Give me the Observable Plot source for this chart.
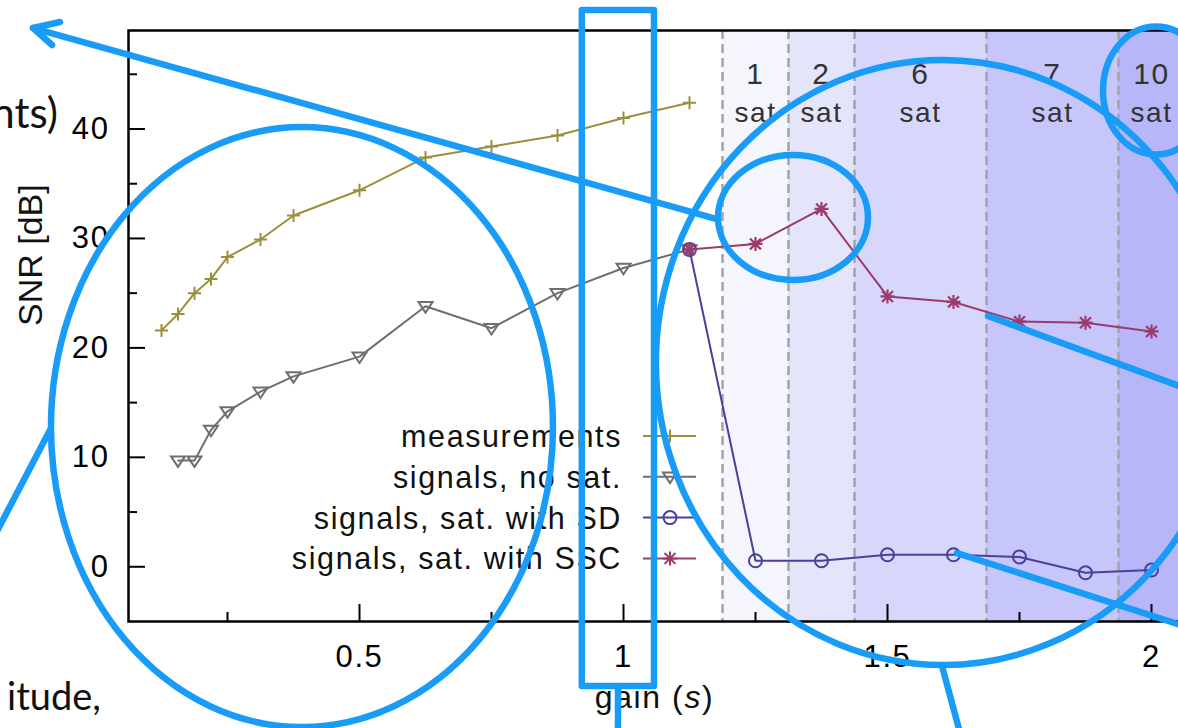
<!DOCTYPE html>
<html>
<head>
<meta charset="utf-8">
<script src="https://cdn.jsdelivr.net/npm/d3@7"></script>
<script src="https://cdn.jsdelivr.net/npm/@observablehq/plot@0.6"></script>
<style>
  html, body { margin: 0; padding: 0; background: #fff; overflow: hidden; width: 1178px; height: 728px; }
  #wrap { position: relative; width: 1200px; height: 728px; overflow: hidden; background: #fff; }
  #wrap svg { max-width: none !important; display: block; }
  #wrap svg text { letter-spacing: 1.6px; }
</style>
</head>
<body>
<div id="wrap"></div>
<script>
// ---------------- data ----------------
const gainMeas  = [0.125, 0.15625, 0.1875, 0.21875, 0.25, 0.3125, 0.375, 0.5, 0.625, 0.75, 0.875, 1.0, 1.125];
const snrMeas   = [21.6, 23.1, 25.0, 26.3, 28.3, 29.9, 32.1, 34.4, 37.4, 38.4, 39.4, 41.0, 42.4];
const gainNoSat = [0.15625, 0.1875, 0.21875, 0.25, 0.3125, 0.375, 0.5, 0.625, 0.75, 0.875, 1.0, 1.125];
const snrNoSat  = [9.7, 9.7, 12.5, 14.2, 16.0, 17.4, 19.2, 23.8, 21.8, 25.0, 27.3, 29.0];
const gainSat   = [1.125, 1.25, 1.375, 1.5, 1.625, 1.75, 1.875, 2.0];
const snrSD     = [29.0, 0.55, 0.55, 1.1, 1.1, 0.9, -0.55, -0.3];
const snrSSC    = [29.0, 29.5, 32.7, 24.7, 24.2, 22.4, 22.3, 21.5];

const satEdges  = [1.1875, 1.3125, 1.4375, 1.6875, 1.9375, 2.0625];
const satCounts = ["1", "2", "6", "7", "10"];
const satWord   = "sat";

const xDomain = [0.0625, 2.0625];
const yDomain = [-5, 49];
const xMajorTicks = [0.5, 1, 1.5, 2];
const xMinorTicks = [0.25, 0.75, 1.25, 1.75];
const yMajorTicks = [0, 10, 20, 30, 40];
const yMinorTicks = [5, 15, 25, 35, 45];

const seriesNames = ["measurements", "signals, no sat.", "signals, sat. with SD", "signals, sat. with SSC"];
const slideFragments = ["nts)", "itude,"];

// annotation overlay shapes, in data units (gain, SNR)
const annEllipses = [
  {cx: 0.392, cy: 12.72, rx: 0.4754, ry: 27.41},
  {cx: 1.606, cy: 18.62, rx: 0.5436, ry: 27.64},
  {cx: 1.322, cy: 31.87, rx: 0.142,  ry: 5.71},
  {cx: 2.0095, cy: 43.47, rx: 0.1004, ry: 5.85}
];
const annRect = [{x1: 0.922, x2: 1.0587, y1: -10.94, y2: 50.83}];
const annPaths = [
  [[1.178, 31.73], [-0.1174, 49.18]],
  [[-0.0663, 49.73], [-0.1174, 49.18], [-0.0814, 47.63]],
  [[-0.0852, 12.45], [-0.1894, 2.86]],
  [[0.9905, -10.94], [0.9905, -15.42]],
  [[1.6913, 22.87], [2.0739, 16.11]],
  [[1.6326, 1.21], [2.0739, -5.64]],
  [[1.6042, -9.11], [1.642, -15.88]]
];

// ---------------- styles ----------------
const colMeas = "#9d8e3c", colNoSat = "#6e6e6e", colSD = "#4a3f9c", colSSC = "#9b3a6c";
const bandFills = ["#f5f5fe", "#e4e4fb", "#d7d7fb", "#c6c6fb", "#b6b6f8"];
const annColor = "#189cf8";

const plusSym = {draw(ctx, size) { const r = Math.sqrt(size / Math.PI); ctx.moveTo(-r, 0); ctx.lineTo(r, 0); ctx.moveTo(0, -r); ctx.lineTo(0, r); }};
const triDown = {draw(ctx, size) { const r = Math.sqrt(size / Math.PI); ctx.moveTo(-r, -r * 0.6); ctx.lineTo(r, -r * 0.6); ctx.lineTo(0, r * 0.9); ctx.closePath(); }};
const astSym = {draw(ctx, size) { const r = Math.sqrt(size / Math.PI), d = r * 0.78;
  ctx.moveTo(-r, 0); ctx.lineTo(r, 0); ctx.moveTo(0, -r); ctx.lineTo(0, r);
  ctx.moveTo(-d, -d); ctx.lineTo(d, d); ctx.moveTo(-d, d); ctx.lineTo(d, -d); }};

const meas  = gainMeas.map((g, i) => ({g, s: snrMeas[i]}));
const nosat = gainNoSat.map((g, i) => ({g, s: snrNoSat[i]}));
const sd    = gainSat.map((g, i) => ({g, s: snrSD[i]}));
const ssc   = gainSat.map((g, i) => ({g, s: snrSSC[i]}));
const bands = satCounts.map((c, i) => ({x1: satEdges[i], x2: satEdges[i + 1], c, fill: bandFills[i]}));

const font = "Liberation Sans, Arial, Helvetica, sans-serif";

const plot = Plot.plot({
  width: 1200,
  height: 728,
  marginLeft: 128,
  marginRight: 16,
  marginTop: 30,
  marginBottom: 107,
  x: {domain: xDomain},
  y: {domain: yDomain},
  style: {fontFamily: font, background: "#fff", color: "#000", maxWidth: "none"},
  marks: [
    Plot.rect(bands, {x1: "x1", x2: "x2", y1: yDomain[0], y2: yDomain[1], fill: "fill"}),
    Plot.ruleX(satEdges.slice(0, 5), {stroke: "#a4a4a4", strokeWidth: 2.5, strokeDasharray: "9,5"}),
    Plot.text(bands, {x: d => (d.x1 + d.x2) / 2, text: "c", frameAnchor: "top", lineAnchor: "middle", dy: 44, fontSize: 30, fill: "#333"}),
    Plot.text(bands, {x: d => (d.x1 + d.x2) / 2, text: () => satWord, frameAnchor: "top", lineAnchor: "middle", dy: 83, fontSize: 28, fill: "#333"}),

    Plot.line(meas, {x: "g", y: "s", stroke: colMeas, strokeWidth: 2}),
    Plot.dot(meas, {x: "g", y: "s", stroke: colMeas, strokeWidth: 2, symbol: plusSym, r: 6.5}),
    Plot.line(nosat, {x: "g", y: "s", stroke: colNoSat, strokeWidth: 2}),
    Plot.dot(nosat, {x: "g", y: "s", stroke: colNoSat, strokeWidth: 2, symbol: triDown, r: 7}),
    Plot.line(sd, {x: "g", y: "s", stroke: colSD, strokeWidth: 2}),
    Plot.dot(sd, {x: "g", y: "s", stroke: colSD, strokeWidth: 2, symbol: "circle", r: 6.5}),
    Plot.line(ssc, {x: "g", y: "s", stroke: colSSC, strokeWidth: 2}),
    Plot.dot(ssc, {x: "g", y: "s", stroke: colSSC, strokeWidth: 2.2, symbol: astSym, r: 7}),

    Plot.frame({stroke: "#000", strokeWidth: 2.5}),

    Plot.axisY(yMajorTicks, {tickSize: -17, strokeWidth: 2, tickFormat: () => "", label: null}),
    Plot.axisY(yMinorTicks, {tickSize: -9, strokeWidth: 2, tickFormat: () => "", label: null}),
    Plot.axisY(yMajorTicks, {tickSize: 0, tickPadding: 19, fontSize: 31, tickFormat: d => String(d), label: null}),
    Plot.axisX(xMajorTicks, {tickSize: -17, strokeWidth: 2, tickFormat: () => "", label: null}),
    Plot.axisX(xMinorTicks, {tickSize: -9, strokeWidth: 2, tickFormat: () => "", label: null}),
    Plot.axisX(xMajorTicks, {tickSize: 0, tickPadding: 23, fontSize: 31, tickFormat: d => String(d), label: null}),

    Plot.text(["SNR [dB]"], {frameAnchor: "left", dx: -97, rotate: -90, fontSize: 34, fill: "#111"}),
    Plot.text(["gain (s)"], {frameAnchor: "bottom", dx: -2, dy: 86, fontSize: 32, fill: "#111"})
  ]
});
plot.style.maxWidth = "none";
plot.style.width = "1200px";
plot.style.height = "728px";

document.getElementById("wrap").appendChild(plot);
const svg = d3.select(plot);

// italic s in the x label
svg.selectAll("text").filter(function() { return this.textContent === "gain (s)"; })
  .each(function() {
    const t = d3.select(this);
    const target = t.selectAll("tspan").size() ? t.select("tspan") : t;
    target.text(null);
    target.append("tspan").text("gain (");
    target.append("tspan").attr("font-style", "italic").text("s");
    target.append("tspan").text(")");
  });
svg.selectAll("text").filter(function() { return this.textContent === "SNR [dB]"; })
  .style("letter-spacing", "0px");

// scales from the plot
const sx = plot.scale("x"), sy = plot.scale("y");
const X = d3.scaleLinear(sx.domain, sx.range);
const Y = d3.scaleLinear(sy.domain, sy.range);

// legend (inside the frame, gnuplot style)
const legRows = [
  {name: seriesNames[0], color: colMeas, sym: plusSym, r: 6.5},
  {name: seriesNames[1], color: colNoSat, sym: triDown, r: 7},
  {name: seriesNames[2], color: colSD, sym: d3.symbolCircle, r: 6.5},
  {name: seriesNames[3], color: colSSC, sym: astSym, r: 7}
];
const leg = svg.append("g").attr("font-family", font);
legRows.forEach((row, i) => {
  const yy = 436 + i * 40.8;
  leg.append("text").attr("x", 622).attr("y", yy + 11).attr("text-anchor", "end")
    .attr("font-size", 30.5).attr("fill", "#111").text(row.name);
  leg.append("line").attr("x1", 643).attr("x2", 696).attr("y1", yy).attr("y2", yy)
    .attr("stroke", row.color).attr("stroke-width", 2);
  leg.append("path").attr("transform", `translate(670,${yy})`)
    .attr("d", d3.symbol(row.sym, Math.PI * row.r * row.r)())
    .attr("fill", "none").attr("stroke", row.color).attr("stroke-width", 2);
});

// slide text fragments visible at the left edge
const frag = svg.append("g").attr("font-family", "Lato, 'Open Sans', sans-serif").attr("fill", "#111");
frag.append("text").attr("x", 58).attr("y", 128).attr("text-anchor", "end").attr("font-size", 42)
  .style("letter-spacing", "0px").text(slideFragments[0]);
frag.append("text").attr("x", 101).attr("y", 710).attr("text-anchor", "end").attr("font-size", 38)
  .style("letter-spacing", "0px").text(slideFragments[1]);

// annotation overlay
const ann = svg.append("g").attr("fill", "none").attr("stroke", annColor)
  .attr("stroke-width", 6.5).attr("stroke-linecap", "round").attr("stroke-linejoin", "round");
annEllipses.forEach(e => {
  ann.append("ellipse").attr("cx", X(e.cx)).attr("cy", Y(e.cy))
    .attr("rx", Math.abs(X(e.cx + e.rx) - X(e.cx))).attr("ry", Math.abs(Y(e.cy + e.ry) - Y(e.cy)));
});
annRect.forEach(r => {
  ann.append("rect").attr("x", X(r.x1)).attr("y", Y(r.y2))
    .attr("width", X(r.x2) - X(r.x1)).attr("height", Y(r.y1) - Y(r.y2)).attr("stroke-linecap", "butt");
});
const lineGen = d3.line().x(p => X(p[0])).y(p => Y(p[1]));
annPaths.forEach(p => ann.append("path").attr("d", lineGen(p)));
</script>
</body>
</html>
